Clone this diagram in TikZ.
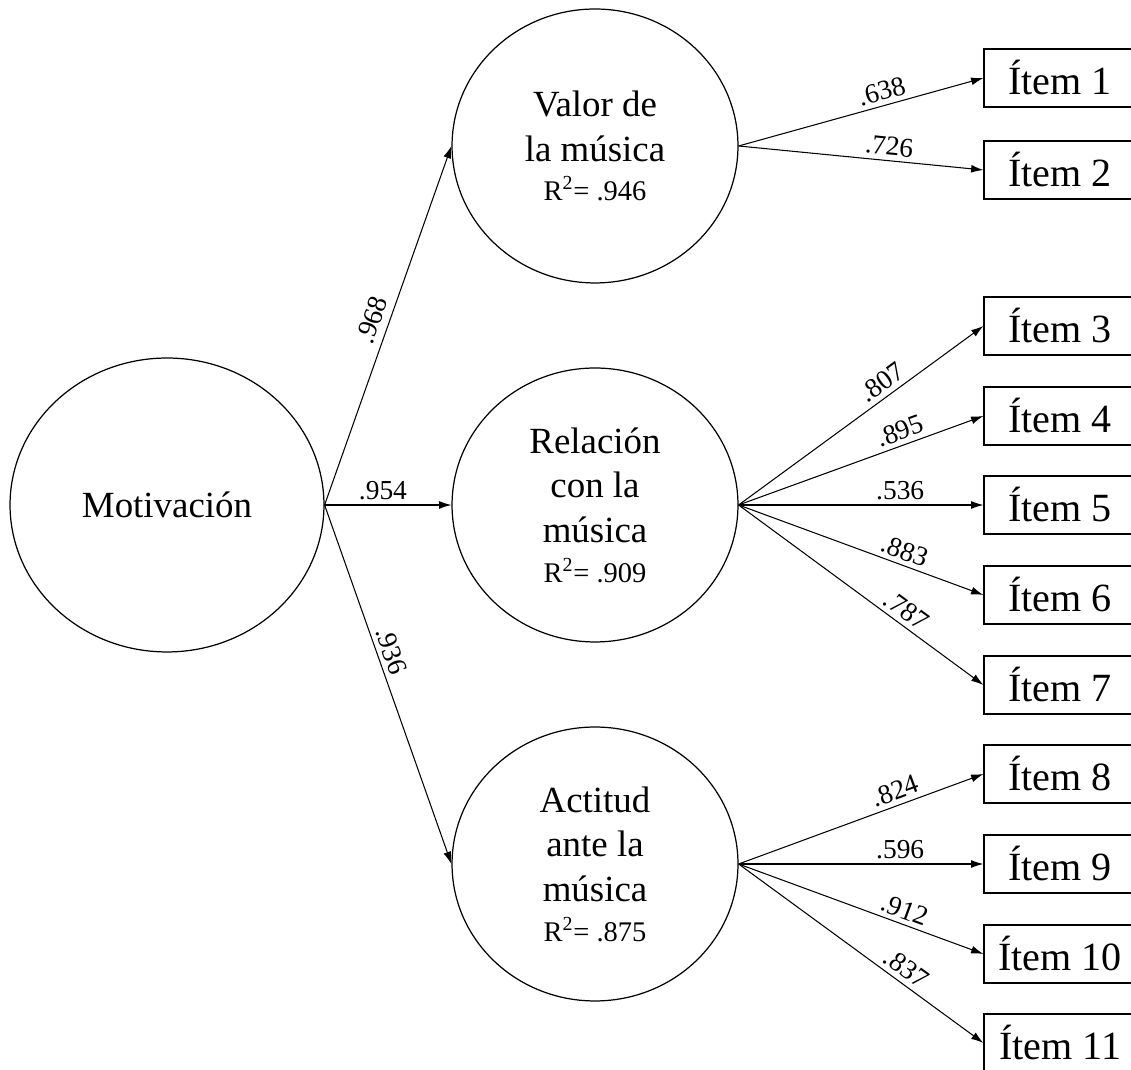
\documentclass[tikz,border=0pt]{standalone}
\usepackage{fontspec}
\setmainfont{Liberation Serif}
\usetikzlibrary{shapes.geometric}
\usetikzlibrary{arrows.meta}
\usetikzlibrary{positioning}

\newcommand\rsq[1]{{\fontsize{16.2}{18}\selectfont R\textsuperscript{2}= #1}}

\begin{document}
\begin{tikzpicture}[x=0.02cm,y=0.02cm,line width=0.6pt,
    latent/.style={draw,ellipse,line width=0.7pt,inner sep=0pt,minimum width=5.72cm,minimum height=5.48cm,
      align=center,font=\fontsize{21}{25.5}\selectfont},
    item/.style={draw,rectangle,line width=0.7pt,inner sep=0pt,minimum width=3.04cm,minimum height=1.16cm,
      font=\fontsize{22.8}{24}\selectfont},
    arr/.style={-{Latex[length=7pt,width=4.5pt]}},
    coef/.style={font=\fontsize{15.6}{18}\selectfont,sloped,above,inner sep=2.6pt}]
    \useasboundingbox (0,0) rectangle (1131,1070);
    % latent variables
    \node[latent,minimum width=6.28cm,minimum height=5.88cm] (mot) at (167,565) {Motivación};
    \node[latent] (val) at (595,924) {Valor de\\la música\\[-3pt]\rsq{.946}};
    \node[latent] (rel) at (595,565) {Relación\\con la\\música\\[-3pt]\rsq{.909}};
    \node[latent] (act) at (595,206) {Actitud\\ante la\\música\\[-3pt]\rsq{.875}};
    % items
    \foreach \n/\y in {1/992,2/900,3/744,4/654,5/565,6/475,7/385,8/296,9/206,10/116,11/27}{
      \node[item] (it\n) at (1060,\y) {Ítem \n};
    }
    % second order loadings
    \draw[arr] (mot.east) -- node[coef,pos=.5,inner sep=4pt]{.968} (val.west);
    \draw[arr] (mot.east) -- node[coef,pos=.46]{.954} (rel.west);
    \draw[arr] (mot.east) -- node[coef,pos=.42]{.936} (act.west);
    % first order loadings
    \foreach \lat/\itm/\w/\ps in {val/1/.638/.6,val/2/.726/.61,
        rel/3/.807/.62,rel/4/.895/.68,rel/5/.536/.66,rel/6/.883/.66,rel/7/.787/.65,
        act/8/.824/.66,act/9/.596/.66,act/10/.912/.66,act/11/.837/.65}{
      \draw[arr] (\lat.east) -- node[coef,pos=\ps]{\w} (it\itm.west);
    }
\end{tikzpicture}
\end{document}
